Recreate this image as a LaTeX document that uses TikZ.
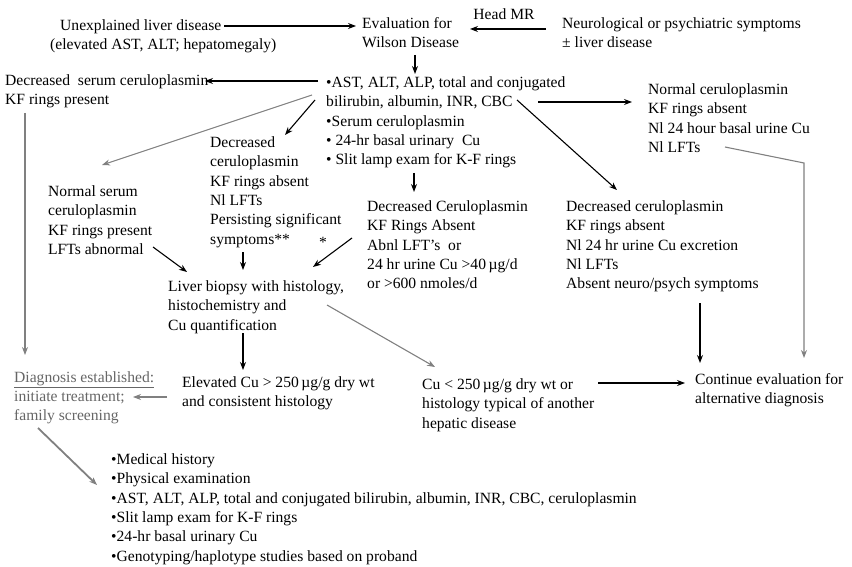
\documentclass[tikz,border=0pt]{standalone}
\usepackage{fontspec}
\setmainfont{Liberation Serif}
\usepackage{tikz}
\usetikzlibrary{arrows.meta, calc}

\begin{document}
\begin{tikzpicture}[x=1pt, y=-1pt,
  txt/.style={anchor=north west, align=left, inner sep=0pt, font=\fontsize{15.6}{19.3}\selectfont},
  arr/.style={-{Stealth[length=8pt, width=6pt]}, line width=1.1pt},
  garr/.style={arr, black!50}]
\useasboundingbox (0,0) rectangle (852,567);
% text blocks
\node[txt] (unexp) at (50,19.5) {\hspace*{10pt}Unexplained liver disease\\(elevated AST, ALT; hepatomegaly)};
\node[txt] (eval) at (362,17.5) {Evaluation for\\Wilson Disease};
\node[txt] (neuro) at (562,17.5) {Neurological or psychiatric symptoms\\± liver disease};
\node[txt] (tests) at (326,76.5) {•AST, ALT, ALP, total and conjugated\\bilirubin, albumin, INR, CBC\\•Serum ceruloplasmin\\• 24-hr basal urinary\ \ Cu\\• Slit lamp exam for K-F rings};
\node[txt] (decser) at (5,74.5) {Decreased\ \ serum ceruloplasmin\\KF rings present};
\node[txt] (decabs1) at (210,136.5) {Decreased\\ceruloplasmin\\KF rings absent\\Nl LFTs\\Persisting significant\\symptoms**};
\node[txt] (normser) at (48,185.5) {Normal serum\\ceruloplasmin\\KF rings present\\LFTs abnormal};
\node[txt] (decabs2) at (367,200.5) {Decreased Ceruloplasmin\\KF Rings Absent\\Abnl LFT's\ \ or\\24 hr urine Cu >40\,µg/d\\or >600 nmoles/d};
\node[txt] (normcer) at (648,83.5) {Normal ceruloplasmin\\KF rings absent\\Nl 24 hour basal urine Cu\\Nl LFTs};
\node[txt] (decabs3) at (566,200.5) {Decreased ceruloplasmin\\KF rings absent\\Nl 24 hr urine Cu excretion\\Nl LFTs\\Absent neuro/psych symptoms};
\node[txt, anchor=center] (star) at (323,242.5) {*};
\node[txt] (biopsy) at (168,280.5) {Liver biopsy with histology,\\histochemistry and\\Cu quantification};
\node[txt] (elev) at (182,376.5) {Elevated Cu > 250\,µg/g dry wt\\and consistent histology};
\node[txt] (culess) at (422,378.5) {Cu < 250\,µg/g dry wt or\\histology typical of another\\hepatic disease};
\node[txt] (cont) at (695,373) {Continue evaluation for\\alternative diagnosis};
\node[txt, black!60] (diag) at (14,371) {\underline{Diagnosis established:}\\initiate treatment;\\family screening};
\node[txt] (list) at (111,453.5) {•Medical history\\•Physical examination\\•AST, ALT, ALP, total and conjugated bilirubin, albumin, INR, CBC, ceruloplasmin\\•Slit lamp exam for K-F rings\\•24-hr basal urinary Cu\\•Genotyping/haplotype studies based on proband};
% arrows
\draw[arr] ($(unexp.north west)+(174,6.5)$) -- ($(eval.north west)+(-6,8.5)$);
\draw[arr] ($(neuro.north west)+(-16,11.5)$) -- ($(eval.north west)+(108,11.5)$) node[txt, midway, above=9pt, xshift=-4pt] (headmr) {Head MR};
\draw[arr] ($(eval.north west)+(53,37.5)$) -- ($(tests.north west)+(89,-2.5)$);
\draw[arr] ($(tests.north west)+(-8,4.5)$) -- ($(decser.north west)+(200,6.5)$);
\draw[garr] ($(tests.north west)+(-14,18.5)$) -- ($(normser.north west)+(54,-20.5)$);
\draw[arr] ($(tests.north west)+(-11,23.5)$) -- ($(decabs1.north west)+(75,-1.5)$);
\draw[arr] ($(tests.north west)+(88,96.5)$) -- ($(decabs2.north west)+(47,-8.5)$);
\draw[arr] ($(tests.north west)+(212,25.5)$) -- ($(normcer.north west)+(-16,18.5)$);
\draw[arr] ($(tests.north west)+(191,23.5)$) -- ($(decabs3.north west)+(51,-10.5)$);
\draw[garr] ($(normcer.north west)+(77,63.5)$) -- ($(normcer.north west)+(156,79.5)$) -- ($(cont.north west)+(109,-15)$);
\draw[arr] ($(decabs3.north west)+(134,102.5)$) -- ($(cont.north west)+(5,-10)$);
\draw[arr] ($(decabs1.north west)+(33,115.5)$) -- ($(biopsy.north west)+(75,-10.5)$);
\draw[arr] ($(normser.north west)+(105,61.5)$) -- ($(biopsy.north west)+(19,-8.5)$);
\draw[arr] ($(decabs2.north west)+(-15,37.5)$) -- ($(biopsy.north west)+(145,-13.5)$);
\draw[arr] ($(biopsy.north west)+(75,52.5)$) -- ($(elev.north west)+(61,-6.5)$);
\draw[garr] ($(biopsy.north west)+(159,24.5)$) -- ($(culess.north west)+(13,-11.5)$);
\draw[garr] ($(elev.north west)+(-15,20.5)$) -- ($(diag.north west)+(119,26)$);
\draw[garr] ($(decser.north west)+(20,38.5)$) -- ($(diag.north west)+(11,-16)$);
\draw[arr] ($(culess.north west)+(176,4.5)$) -- ($(cont.north west)+(-10,10)$);
\draw[garr, line width=1.8pt] ($(diag.north west)+(24,57)$) -- ($(list.north west)+(-14,31.5)$);
\end{tikzpicture}
\end{document}
